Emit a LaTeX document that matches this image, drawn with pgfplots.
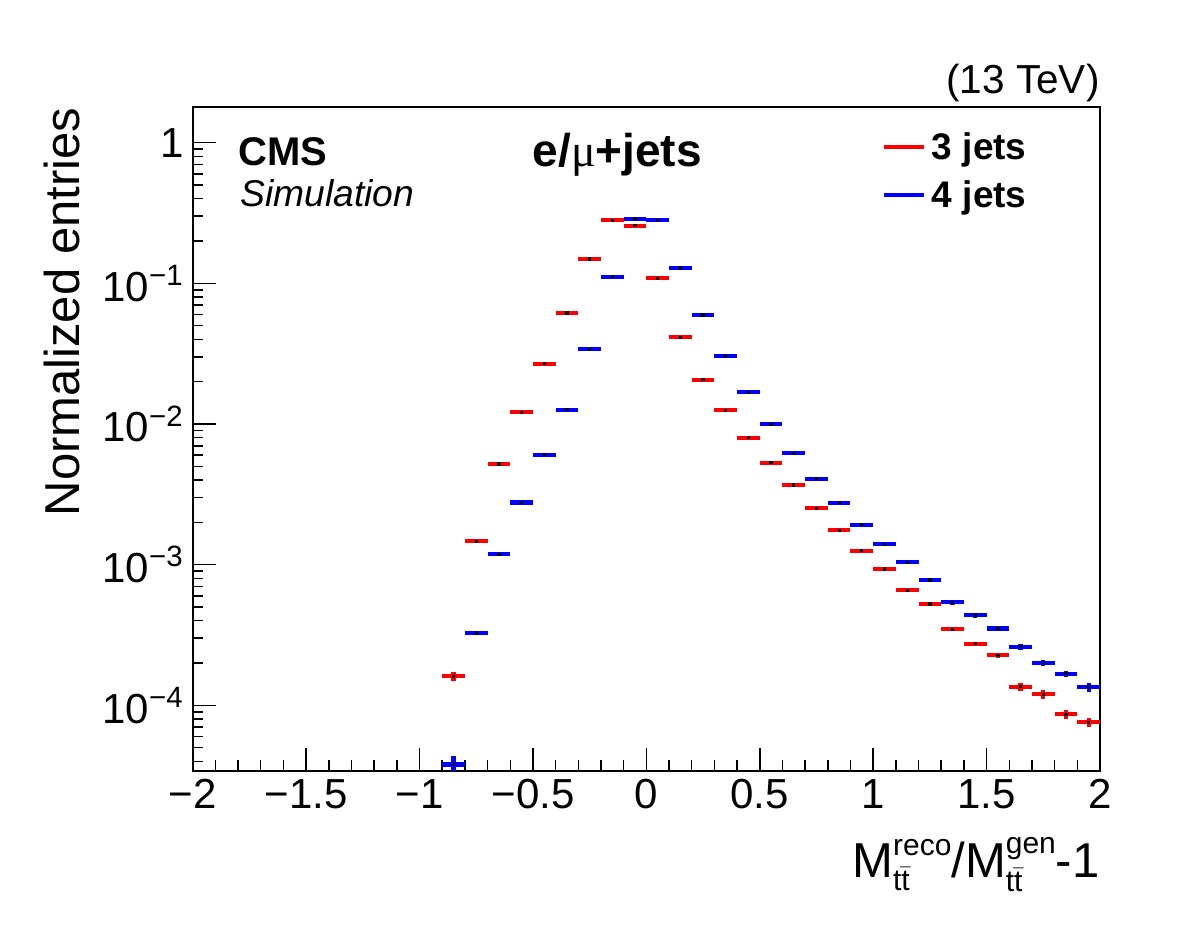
\documentclass[border=0pt]{standalone}
\usepackage{fontspec}
\setmainfont{Liberation Sans}
\newfontfamily\symfont{Liberation Serif}
\usepackage{amsmath}
\usepackage{pgfplots}
\usepackage{pgfplotstable}
\pgfplotsset{compat=1.18}
% smaller sub/superscripts for the axis title size
\DeclareMathSizes{19.6}{19.6}{12}{9}

% Normalized distributions of M(reco)/M(gen)-1, bins of width 0.1
\pgfplotstableread{
x      y         ex    ey
-0.85  1.607e-4  0.05  1.1e-5
-0.75  1.466e-3  0.05  3.0e-5
-0.65  5.20e-3   0.05  5.0e-5
-0.55  1.211e-2  0.05  8.0e-5
-0.45  2.684e-2  0.05  1.2e-4
-0.35  6.15e-2   0.05  2.0e-4
-0.25  0.149     0.05  3.0e-4
-0.15  0.2807    0.05  4.0e-4
-0.05  0.257     0.05  4.0e-4
 0.05  0.1088    0.05  3.0e-4
 0.15  4.13e-2   0.05  1.5e-4
 0.25  2.065e-2  0.05  1.0e-4
 0.35  1.251e-2  0.05  8.0e-5
 0.45  8.00e-3   0.05  6.0e-5
 0.55  5.31e-3   0.05  5.0e-5
 0.65  3.68e-3   0.05  4.0e-5
 0.75  2.52e-3   0.05  3.5e-5
 0.85  1.76e-3   0.05  3.0e-5
 0.95  1.256e-3  0.05  2.5e-5
 1.05  9.33e-4   0.05  2.2e-5
 1.15  6.57e-4   0.05  1.8e-5
 1.25  5.25e-4   0.05  1.6e-5
 1.35  3.48e-4   0.05  1.2e-5
 1.45  2.74e-4   0.05  1.0e-5
 1.55  2.27e-4   0.05  9.0e-6
 1.65  1.355e-4  0.05  9.0e-6
 1.75  1.197e-4  0.05  8.0e-6
 1.85  8.63e-5   0.05  6.0e-6
 1.95  7.57e-5   0.05  5.0e-6
}\threejets

\pgfplotstableread{
x      y         ex    ey
-0.85  3.80e-5   0.05  5.3e-6
-0.75  3.27e-4   0.05  1.2e-5
-0.65  1.185e-3  0.05  2.5e-5
-0.55  2.77e-3   0.05  4.0e-5
-0.45  6.05e-3   0.05  6.0e-5
-0.35  1.264e-2  0.05  9.0e-5
-0.25  3.40e-2   0.05  1.5e-4
-0.15  0.1115    0.05  3.0e-4
-0.05  0.288     0.05  5.0e-4
 0.05  0.2807    0.05  5.0e-4
 0.15  0.1286    0.05  3.0e-4
 0.25  5.96e-2   0.05  2.0e-4
 0.35  3.04e-2   0.05  1.4e-4
 0.45  1.68e-2   0.05  1.1e-4
 0.55  9.95e-3   0.05  8.0e-5
 0.65  6.19e-3   0.05  6.0e-5
 0.75  4.08e-3   0.05  5.0e-5
 0.85  2.76e-3   0.05  4.0e-5
 0.95  1.92e-3   0.05  3.5e-5
 1.05  1.395e-3  0.05  3.0e-5
 1.15  1.04e-3   0.05  2.6e-5
 1.25  7.78e-4   0.05  2.3e-5
 1.35  5.40e-4   0.05  2.0e-5
 1.45  4.39e-4   0.05  1.8e-5
 1.55  3.52e-4   0.05  1.5e-5
 1.65  2.61e-4   0.05  1.3e-5
 1.75  1.99e-4   0.05  1.0e-5
 1.85  1.68e-4   0.05  8.5e-6
 1.95  1.343e-4  0.05  9.0e-6
}\fourjets

\begin{document}
\begin{tikzpicture}
\path[use as bounding box] (-77.08pt,-66.12pt) rectangle (395.72pt,308.28pt);
\begin{axis}[
  at={(0,0)}, anchor=south west,
  scale only axis, width=362.92pt, height=265.36pt,
  clip mode=individual,
  xmin=-2, xmax=2,
  ymode=log, ymin=3.43e-5, ymax=1.785,
  axis line style={line width=0.8pt},
  tick style={line width=0.6pt, black},
  tick align=inside,
  xtick pos=bottom, ytick pos=left,
  major tick length=9.2pt, minor tick length=4.2pt,
  xtick={-2,-1.5,-1,-0.5,0,0.5,1,1.5,2},
  xticklabels={−2,−1.5,−1,−0.5,0,0.5,1,1.5,2},
  minor x tick num=4,
  ytick={1e-4,1e-3,1e-2,1e-1,1},
  yticklabels={10\textsuperscript{−4},10\textsuperscript{−3},10\textsuperscript{−2},10\textsuperscript{−1},1},
  minor ytick={4e-5,5e-5,6e-5,7e-5,8e-5,9e-5,
               2e-4,3e-4,4e-4,5e-4,6e-4,7e-4,8e-4,9e-4,
               2e-3,3e-3,4e-3,5e-3,6e-3,7e-3,8e-3,9e-3,
               2e-2,3e-2,4e-2,5e-2,6e-2,7e-2,8e-2,9e-2,
               0.2,0.3,0.4,0.5,0.6,0.7,0.8,0.9},
  ticklabel style={font=\fontsize{16.8}{20}\selectfont},
  legend cell align=left,
  legend style={at={(axis description cs:0.7597,0.9658)}, anchor=north west,
    draw=none, fill=none, inner sep=0pt, outer sep=0pt,
    font=\fontsize{14.8}{17}\selectfont\bfseries,
    row sep=5pt, column sep=2.4pt,
    nodes={inner sep=0pt, text height=12pt, text depth=2pt}},
]
\addplot[only marks, mark=square*, mark size=0.45pt,
  mark options={draw=black, fill=black},
  legend image code/.code={\draw[line width=1.6pt, red] (0pt,0pt) -- (16pt,0pt);},
  error bars/.cd, x dir=both, x explicit, y dir=both, y explicit,
  error mark=none, error bar style={line width=1.7pt, red}]
  table[x=x, y=y, x error=ex, y error=ey] {\threejets};
\addlegendentry{3 jets}
\addplot[only marks, mark=square*, mark size=0.45pt,
  mark options={draw=black, fill=black},
  legend image code/.code={\draw[line width=1.6pt, blue] (0pt,0pt) -- (16pt,0pt);},
  error bars/.cd, x dir=both, x explicit, y dir=both, y explicit,
  error mark=none, error bar style={line width=1.7pt, blue}]
  table[x=x, y=y, x error=ex, y error=ey] {\fourjets};
\addlegendentry{4 jets}

\node[anchor=base west, inner sep=0pt, font=\fontsize{16}{19}\selectfont\bfseries]
  at (axis description cs:0.0499,0.913) {CMS};
\node[anchor=base west, inner sep=0pt, font=\fontsize{14.9}{18}\selectfont\itshape]
  at (axis description cs:0.0521,0.8512) {Simulation};
\node[anchor=base, inner sep=0pt, font=\fontsize{18.4}{21}\selectfont\bfseries]
  at (axis description cs:0.468,0.9105) {e/{\symfont\mdseries μ}+jets};
\node[anchor=base east, inner sep=0pt, font=\fontsize{16.2}{19}\selectfont]
  at (axis description cs:1.0,1.0211) {(13 TeV)};
\node[anchor=base east, inner sep=0pt, font=\fontsize{19.6}{23}\selectfont]
  at (axis description cs:1.0,-0.1617)
  {\scriptspace=0pt$\text{M}^{\text{reco}}_{\text{t}\bar{\text{t}}}$/$\text{M}^{\text{gen}}_{\text{t}\bar{\text{t}}}$-1};
\node[anchor=base east, rotate=90, inner sep=0pt, font=\fontsize{19.6}{23}\selectfont]
  at (axis description cs:-0.1253,1.0) {Normalized entries};
\end{axis}
\end{tikzpicture}
\end{document}
